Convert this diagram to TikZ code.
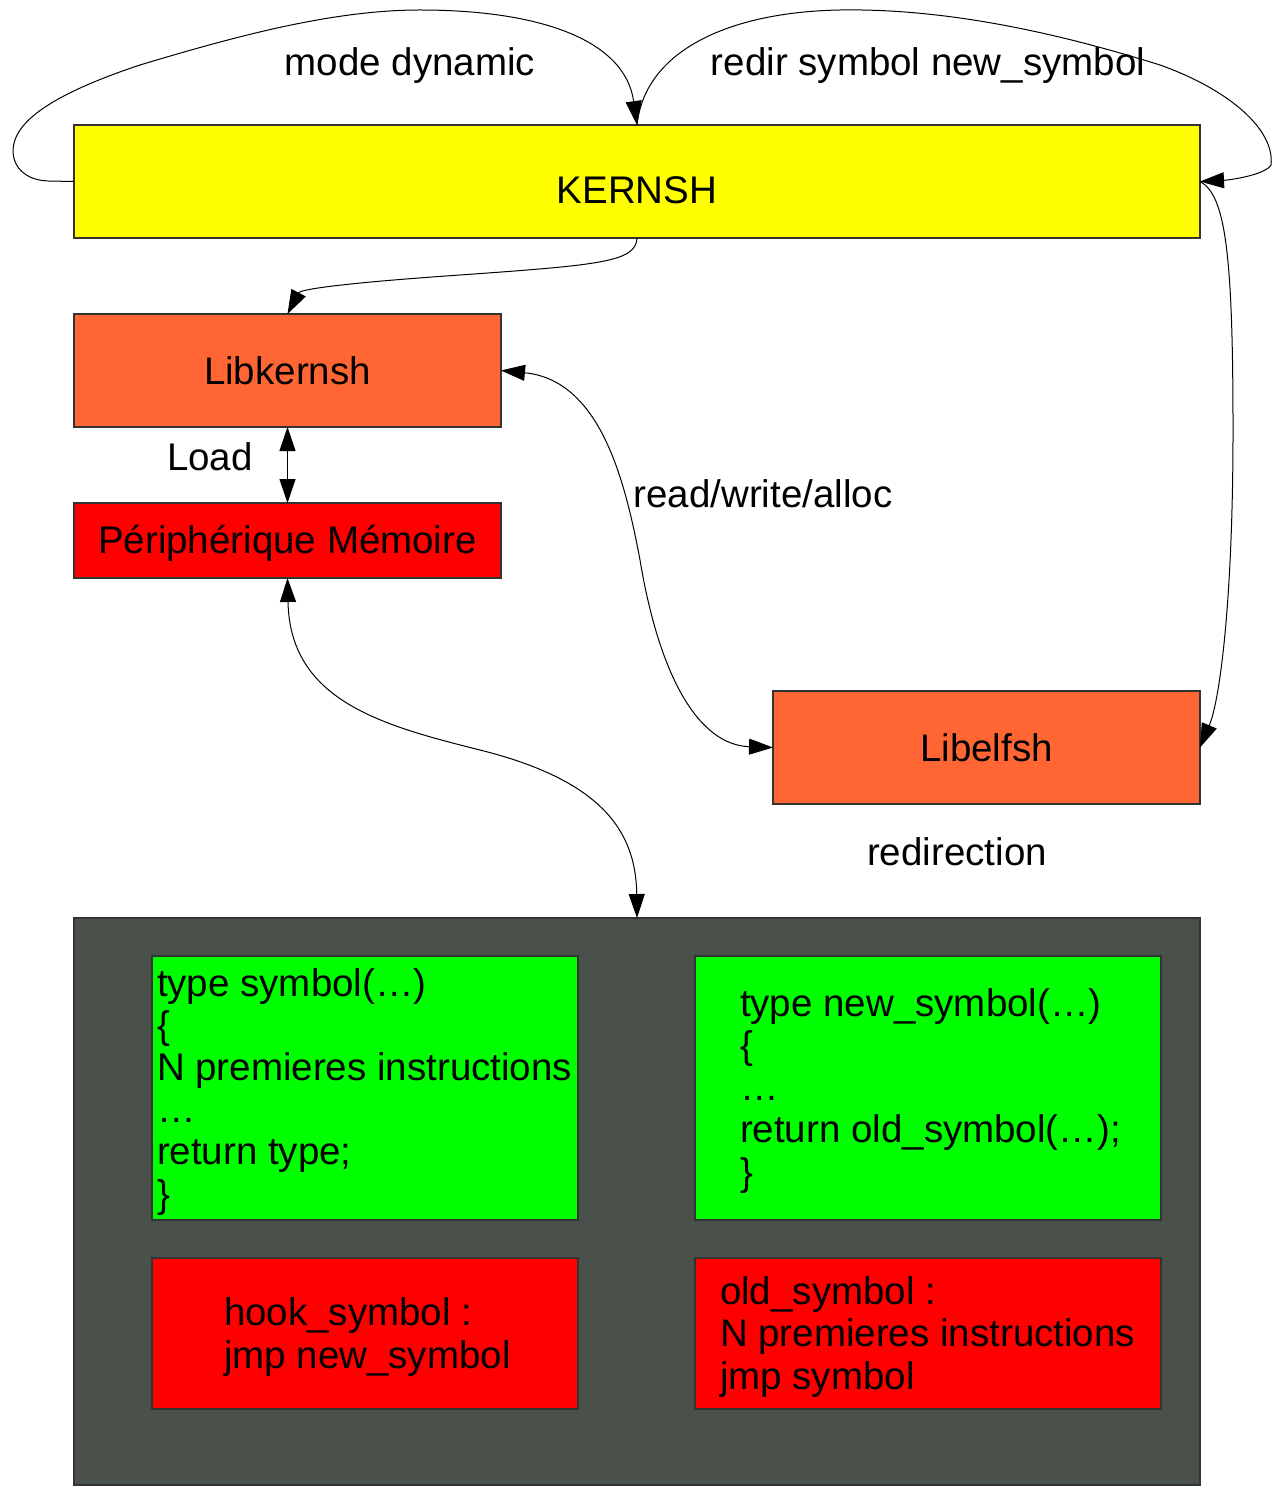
\documentclass[tikz,border=0pt]{standalone}
\usepackage{fontspec}
\setmainfont{Liberation Sans}
\usetikzlibrary{arrows.meta}

\definecolor{kyellow}{RGB}{255,255,0}
\definecolor{korange}{RGB}{255,102,51}
\definecolor{kred}{RGB}{255,0,0}
\definecolor{kgreen}{RGB}{0,255,0}
\definecolor{kdark}{RGB}{74,81,74}
\definecolor{kborder}{RGB}{51,51,51}

\begin{document}
\begin{tikzpicture}[x=0.5pt,y=-0.5pt,
  every node/.style={font=\fontsize{19.25}{21.1}\selectfont, inner sep=0pt, outer sep=0pt},
  box/.style={draw=kborder, line width=0.7pt, rectangle},
  code/.style={align=left, anchor=base west},
  link/.style={line width=0.5pt, draw=black},
  >={Triangle[length=12pt,width=8pt]}]

\useasboundingbox (0,0) rectangle (1271,1486);

% main blocks
\node[box, fill=kyellow, minimum width=563pt, minimum height=56.5pt, text height=22pt] (kernsh) at (637,181.5) {KERNSH};
\node[box, fill=korange, minimum width=213.5pt, minimum height=56.5pt] (libk) at (287.5,370.5) {Libkernsh};
\node[box, fill=kred, minimum width=213.5pt, minimum height=37.5pt, text height=17pt, text depth=4pt] (periph) at (287.5,540.5) {Périphérique Mémoire};
\node[box, fill=korange, minimum width=213.5pt, minimum height=56.5pt] (libelf) at (986.5,747.5) {Libelfsh};

% memory area with the code snippets
\node[box, fill=kdark, minimum width=563pt, minimum height=283.5pt] (mem) at (637,1201.5) {};
\node[box, fill=kgreen, minimum width=213pt, minimum height=132pt] (orig) at (365,1088) {};
\node[box, fill=kgreen, minimum width=233pt, minimum height=132pt] (newfn) at (928,1088) {};
\node[box, fill=kred, minimum width=213pt, minimum height=75.5pt] (hook) at (365,1333.5) {};
\node[box, fill=kred, minimum width=233pt, minimum height=75.5pt] (oldfn) at (928,1333.5) {};

% code lines (anchored on the baseline of the last line)
\node[code] (origtxt) at (157,1207) {type symbol(…)\\\{\\N premieres instructions\\…\\return type;\\\}};
\node[code] (newtxt) at (740,1185) {type new\_symbol(…)\\\{\\…\\return old\_symbol(…);\\\}};
\node[code, font=\fontsize{19.25}{21.5}\selectfont] (hooktxt) at (224,1368) {hook\_symbol :\\jmp new\_symbol};
\node[code] (oldtxt) at (720,1389) {old\_symbol :\\N premieres instructions\\jmp symbol};

% labels
\node (lmode) at (410,66) {mode dynamic};
\node (lredir) at (928,66) {redir symbol new\_symbol};
\node (lload) at (210,457) {Load};
\node (lrw) at (763,494) {read/write/alloc};
\node (lredirection) at (957,852) {redirection};

% connectors
\draw[link,->] (kernsh.west) -- (48,181)
  .. controls (20,180) and (8,160) .. (15,140)
  .. controls (25,110) and (80,85) .. (140,65)
  .. controls (230,38) and (330,10) .. (420,10)
  .. controls (540,10) and (625,40) .. (kernsh.north);

\draw[link,->] (kernsh.north)
  .. controls (645,50) and (730,12) .. (840,10)
  .. controls (960,8) and (1080,40) .. (1160,65)
  .. controls (1230,90) and (1275,130) .. (1271,165)
  .. controls (1265,175) and (1230,180) .. (kernsh.east);

\draw[link,->] (kernsh.south)
  .. controls (636,262) and (600,265) .. (460,275)
  .. controls (330,284) and (300,290) .. (libk.north);

\draw[link,->] (kernsh.east)
  .. controls (1225,195) and (1233,250) .. (1233,430)
  .. controls (1233,600) and (1220,700) .. (libelf.east);

\draw[link,<->] (libk.east)
  .. controls (600,380) and (625,480) .. (640,560)
  .. controls (660,680) and (700,745) .. (libelf.west);

\draw[link,<->] (libk.south) -- (periph.north);

\draw[link,<->] (periph.south)
  .. controls (290,700) and (380,725) .. (480,750)
  .. controls (600,780) and (636,830) .. (mem.north);

\end{tikzpicture}
\end{document}
